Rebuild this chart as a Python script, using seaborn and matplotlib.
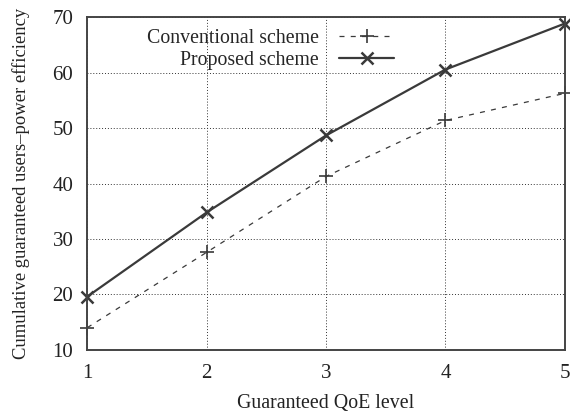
import matplotlib
matplotlib.use("Agg")
import matplotlib.pyplot as plt
import seaborn as sns
import pandas as pd

qoe_levels = [1, 2, 3, 4, 5]
conventional = [14.0, 27.6, 41.3, 51.4, 56.3]
proposed = [19.6, 34.8, 48.7, 60.6, 68.9]
y_ticks = [10, 20, 30, 40, 50, 60, 70]

sns.set_style("white")
plt.rcParams["font.family"] = ["Liberation Serif", "DejaVu Serif"]
plt.rcParams["font.size"] = 14.3

df = pd.DataFrame({
    "qoe": qoe_levels * 2,
    "value": conventional + proposed,
    "scheme": ["Conventional scheme"] * 5 + ["Proposed scheme"] * 5,
})

fig, ax = plt.subplots(figsize=(5.70, 4.15), dpi=100)
fig.subplots_adjust(left=0.153, right=0.991, top=0.958, bottom=0.157)

line_col = "#3a3a3a"
sns.lineplot(data=df[df.scheme == "Conventional scheme"], x="qoe", y="value",
             ax=ax, color=line_col, linestyle=(0, (4, 5)), linewidth=0.9,
             marker="+", markersize=10, markeredgewidth=1.2,
             markeredgecolor=line_col, clip_on=False,
             label="Conventional scheme")
sns.lineplot(data=df[df.scheme == "Proposed scheme"], x="qoe", y="value",
             ax=ax, color=line_col, linestyle="-", linewidth=1.6,
             marker="x", markersize=9, markeredgewidth=1.8,
             markeredgecolor=line_col, clip_on=False,
             label="Proposed scheme")

ax.set_xlim(1, 5)
ax.set_ylim(10, 70)
ax.set_xticks(qoe_levels)
ax.set_yticks(y_ticks)
ax.grid(True, color="#333333", linestyle=(0, (1, 2)), linewidth=0.7)
for s in ax.spines.values():
    s.set_color("#444444")
    s.set_linewidth(1.4)
ax.tick_params(axis="both", which="both", length=4, direction="in",
               colors="#444444", labelcolor="#222222", pad=10, labelsize=15)
ax.set_xlabel("Guaranteed QoE level", fontsize=14.3, color="#222222", labelpad=8)
ax.set_ylabel("Cumulative guaranteed users\u2013power efficiency", fontsize=13.4,
              color="#222222", labelpad=16)

leg = ax.legend(loc="upper left", bbox_to_anchor=(0.1, 1.0), frameon=False,
                markerfirst=False, handlelength=2.8, fontsize=14.3,
                borderaxespad=0.2, labelspacing=0.12, handletextpad=1.0)
for t in leg.get_texts():
    t.set_ha("right")

fig.savefig("out.png", dpi=100)
